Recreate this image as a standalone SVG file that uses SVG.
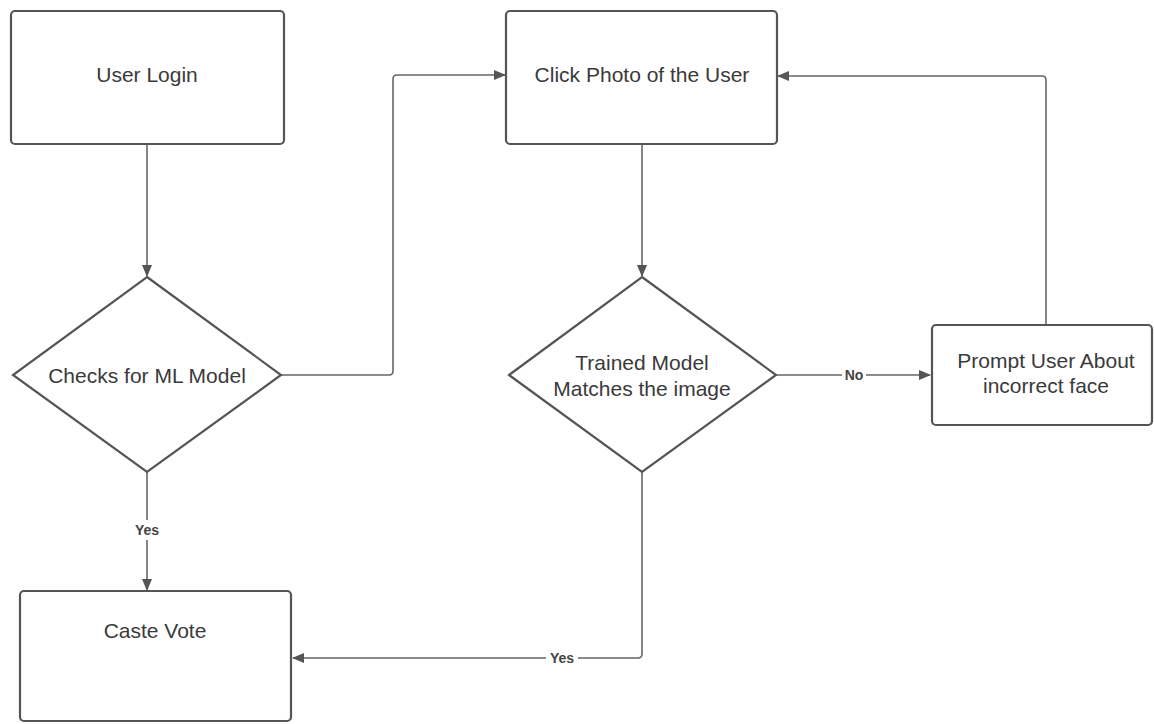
<svg xmlns="http://www.w3.org/2000/svg" width="1154" height="724" viewBox="0 0 1154 724">
  <style>
    .box { fill: #ffffff; stroke: #555555; stroke-width: 2.2; }
    .txt { font-family: "Liberation Sans", Arial, sans-serif; font-size: 21px; fill: #3a3a3a; text-anchor: middle; dominant-baseline: central; }
    .lbl { font-family: "Liberation Sans", Arial, sans-serif; font-size: 14px; font-weight: bold; fill: #444444; text-anchor: middle; dominant-baseline: central; }
    .edge { fill: none; stroke: #666666; stroke-width: 1.6; stroke-linejoin: round; }
    .lblbg { fill: #ffffff; }
  </style>
  <defs>
    <marker id="arrow" markerWidth="12" markerHeight="10" refX="11" refY="5" orient="auto" markerUnits="userSpaceOnUse">
      <path d="M0,0 L12,5 L0,10 Z" fill="#555555"/>
    </marker>
  </defs>
  <rect width="1154" height="724" fill="#ffffff"/>

  <g id="connectors">
    <!-- User Login to decision -->
    <path class="edge" d="M147,144 L147,276" marker-end="url(#arrow)"/>
    <!-- decision right to Click Photo -->
    <path class="edge" d="M281,375 L389,375 Q393,375 393,371 L393,79 Q393,75 397,75 L505,75" marker-end="url(#arrow)"/>
    <!-- Click Photo to Trained Model -->
    <path class="edge" d="M642,144 L642,276" marker-end="url(#arrow)"/>
    <!-- No branch -->
    <path class="edge" d="M776,375 L930,375" marker-end="url(#arrow)"/>
    <!-- Prompt back to Click Photo -->
    <path class="edge" d="M1046,325 L1046,80 Q1046,76 1042,76 L778,76" marker-end="url(#arrow)"/>
    <!-- Yes from Checks -->
    <path class="edge" d="M147,472 L147,590" marker-end="url(#arrow)"/>
    <!-- Yes from Trained Model -->
    <path class="edge" d="M642,472 L642,654 Q642,658 638,658 L293,658" marker-end="url(#arrow)"/>

    <rect class="lblbg" x="842" y="367" width="24" height="16"/>
    <text class="lbl" x="854" y="375">No</text>
    <rect class="lblbg" x="132" y="520" width="30" height="20"/>
    <text class="lbl" x="147" y="530">Yes</text>
    <rect class="lblbg" x="546" y="650" width="32" height="16"/>
    <text class="lbl" x="562" y="658">Yes</text>
  </g>

  <g id="user-login">
    <rect class="box" x="11" y="11" width="273" height="133" rx="4"/>
    <text class="txt" x="147" y="74">User Login</text>
  </g>

  <g id="checks-ml-model">
    <polygon class="box" points="147,277 281,375 147,472 13,375"/>
    <text class="txt" x="147" y="375">Checks for ML Model</text>
  </g>

  <g id="click-photo">
    <rect class="box" x="506" y="11" width="271" height="133" rx="4"/>
    <text class="txt" x="642" y="74">Click Photo of the User</text>
  </g>

  <g id="trained-model">
    <polygon class="box" points="642,277 776,375 642,472 509,375"/>
    <text class="txt" x="642" y="362">Trained Model</text>
    <text class="txt" x="642" y="388">Matches the image</text>
  </g>

  <g id="prompt-user">
    <rect class="box" x="932" y="325" width="220" height="100" rx="4"/>
    <text class="txt" x="1046" y="360">Prompt User About</text>
    <text class="txt" x="1046" y="385">incorrect face</text>
  </g>

  <g id="caste-vote">
    <rect class="box" x="20" y="591" width="271" height="130" rx="4"/>
    <text class="txt" x="155" y="630">Caste Vote</text>
  </g>
</svg>
